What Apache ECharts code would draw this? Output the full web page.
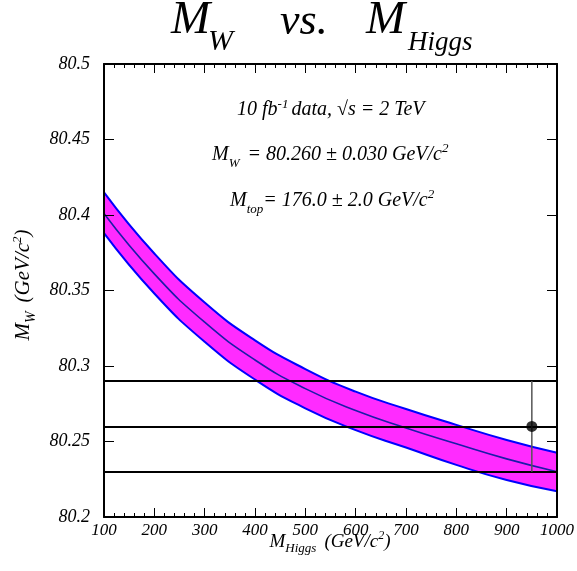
<!DOCTYPE html>
<html>
<head>
<meta charset="utf-8">
<script src="https://cdn.jsdelivr.net/npm/echarts@6/dist/echarts.min.js"></script>
<style>
  html, body { margin: 0; padding: 0; background: #fff; }
  #chart { width: 577px; height: 571px; }
</style>
</head>
<body>
<div id="chart"></div>
<script>
// Higgs mass grid (GeV/c^2) and predicted W mass band (GeV/c^2)
const mHiggs    = [100, 200, 300, 400, 500, 600, 700, 800, 900, 1000];
const mwUpper   = [80.415, 80.3745, 80.342, 80.317, 80.298, 80.283, 80.2715, 80.261, 80.251, 80.2425];
const mwCentral = [80.401, 80.361, 80.329, 80.304, 80.285, 80.2705, 80.259, 80.2485, 80.2385, 80.230];
const mwLower   = [80.388, 80.348, 80.316, 80.291, 80.272, 80.2575, 80.246, 80.2345, 80.2245, 80.217];

// Measured W mass and its uncertainty, shown at a reference Higgs mass
const mwMeasured = 80.260;
const mwError = 0.030;
const mHiggsMarker = 950;

const SERIF = '"Liberation Serif", "DejaVu Serif", serif';

const pairs = (ys) => mHiggs.map((x, i) => [x, ys[i]]);

// text runs with sub/superscripts, laid out on a common baseline
const ctx = document.createElement('canvas').getContext('2d');
function fontOf(s) { return 'italic ' + s + 'px ' + SERIF; }
function runWidth(p) { ctx.font = fontOf(p.s); return ctx.measureText(p.t).width; }
function runs(x0, baseline, parts, center) {
  let total = 0;
  parts.forEach(p => { total += runWidth(p) + (p.gap || 0); });
  let x = center ? x0 - total / 2 : x0;
  const out = [];
  parts.forEach(p => {
    out.push({
      type: 'text', x: x, y: baseline + (p.dy || 0) - 0.34 * p.s, z: 100,
      style: { text: p.t, font: fontOf(p.s), fill: '#000', verticalAlign: 'middle', align: 'left' }
    });
    x += runWidth(p) + (p.gap || 0);
  });
  return out;
}

const titleEls = [
  ...runs(171, 37, [{ t: 'M', s: 47 }]),
  ...runs(208, 52, [{ t: 'W', s: 30 }]),
  ...runs(280, 37, [{ t: 'vs.', s: 44 }]),
  ...runs(366, 37, [{ t: 'M', s: 47 }]),
  ...runs(408, 52, [{ t: 'Higgs', s: 27 }])
];

const noteEls = [
  ...runs(237, 117, [
    { t: '10 fb', s: 20 },
    { t: '-1', s: 13, dy: -8, gap: 3 },
    { t: 'data, \u221As = 2 TeV', s: 20 }
  ]),
  ...runs(212, 162, [
    { t: 'M', s: 20 },
    { t: 'W', s: 13, dy: 6, gap: 8 },
    { t: '= 80.260 \u00B1 0.030 GeV/c', s: 20 },
    { t: '2', s: 13, dy: -9 }
  ]),
  ...runs(230, 208, [
    { t: 'M', s: 20 },
    { t: 'top', s: 13, dy: 6 },
    { t: '= 176.0 \u00B1 2.0 GeV/c', s: 20 },
    { t: '2', s: 13, dy: -9 }
  ])
];

const xNameEls = runs(330, 548, [
  { t: 'M', s: 19 },
  { t: 'Higgs', s: 13, dy: 5, gap: 8 },
  { t: '(GeV/c', s: 19 },
  { t: '2', s: 12, dy: -8 },
  { t: ')', s: 19 }
], true);

const yNameEls = runs(0, 0, [
  { t: 'M', s: 21 },
  { t: 'W', s: 14, dy: 5, gap: 9 },
  { t: '(GeV/c', s: 21 },
  { t: '2', s: 13, dy: -9 },
  { t: ')', s: 21 }
], true);

const tickStyle = { color: '#000', width: 1 };
const axisCommon = {
  type: 'value', z: 10,
  axisLine: { show: true, onZero: false, lineStyle: { color: '#000', width: 2 } },
  splitLine: { show: false },
  minorSplitLine: { show: false }
};
const labelFont = { color: '#000', fontStyle: 'italic', fontFamily: SERIF };

const chart = echarts.init(document.getElementById('chart'), null, { renderer: 'canvas' });
chart.setOption({
  animation: false,
  backgroundColor: '#fff',
  grid: { left: 104, right: 19, top: 64, bottom: 54, containLabel: false },
  xAxis: [
    Object.assign({}, axisCommon, {
      position: 'bottom', min: 100, max: 1000, interval: 100,
      axisTick: { show: true, inside: true, length: 9, lineStyle: tickStyle },
      minorTick: { show: true, splitNumber: 5, length: 4, lineStyle: tickStyle },
      axisLabel: Object.assign({ show: true, margin: 5, fontSize: 17, formatter: v => String(v) }, labelFont)
    }),
    Object.assign({}, axisCommon, {
      position: 'top', min: 100, max: 1000, interval: 100,
      axisTick: { show: true, inside: true, length: 9, lineStyle: tickStyle },
      minorTick: { show: true, splitNumber: 5, length: 4, lineStyle: tickStyle },
      axisLabel: { show: false }
    })
  ],
  yAxis: [
    Object.assign({}, axisCommon, {
      position: 'left', min: 80.2, max: 80.5, interval: 0.05,
      axisTick: { show: true, inside: true, length: 10, lineStyle: tickStyle },
      axisLabel: Object.assign({
        show: true, margin: 14, fontSize: 18,
        formatter: v => String(parseFloat(v.toFixed(2)))
      }, labelFont)
    }),
    Object.assign({}, axisCommon, {
      position: 'right', min: 80.2, max: 80.5, interval: 0.05,
      axisTick: { show: true, inside: true, length: 10, lineStyle: tickStyle },
      axisLabel: { show: false }
    })
  ],
  series: [
    {
      // upper edge of the band; the magenta fill runs down to the axis floor
      name: 'upper', type: 'line', data: pairs(mwUpper),
      smooth: true, symbol: 'none',
      lineStyle: { color: '#0000ff', width: 2 },
      areaStyle: { color: '#ff2bff', opacity: 1, origin: 'start' }, z: 2, silent: true
    },
    {
      // lower edge of the band; white fill clears everything underneath it
      name: 'lower', type: 'line', data: pairs(mwLower),
      smooth: true, symbol: 'none',
      lineStyle: { color: '#0000ff', width: 2 },
      areaStyle: { color: '#ffffff', opacity: 1, origin: 'start' }, z: 3, silent: true
    },
    {
      name: 'central', type: 'line', data: pairs(mwCentral),
      smooth: true, symbol: 'none',
      lineStyle: { color: '#1c1ca8', width: 1.6 }, z: 4,
      markLine: {
        silent: true, symbol: 'none', label: { show: false },
        lineStyle: { color: '#000', width: 2, type: 'solid' },
        data: [
          { yAxis: mwMeasured + mwError },
          { yAxis: mwMeasured },
          { yAxis: mwMeasured - mwError }
        ]
      }
    },
    {
      name: 'error', type: 'line', symbol: 'none',
      data: [[mHiggsMarker, mwMeasured - mwError], [mHiggsMarker, mwMeasured + mwError]],
      lineStyle: { color: '#555', width: 1.5 }, z: 5
    },
    {
      name: 'measured', type: 'scatter', symbol: 'circle', symbolSize: 11,
      data: [[mHiggsMarker, mwMeasured]],
      itemStyle: { color: '#000' }, z: 6
    }
  ],
  graphic: [
    ...titleEls,
    ...noteEls,
    ...xNameEls,
    { type: 'group', x: 31, y: 285, rotation: Math.PI / 2, z: 100, children: yNameEls }
  ]
});
</script>
</body>
</html>
